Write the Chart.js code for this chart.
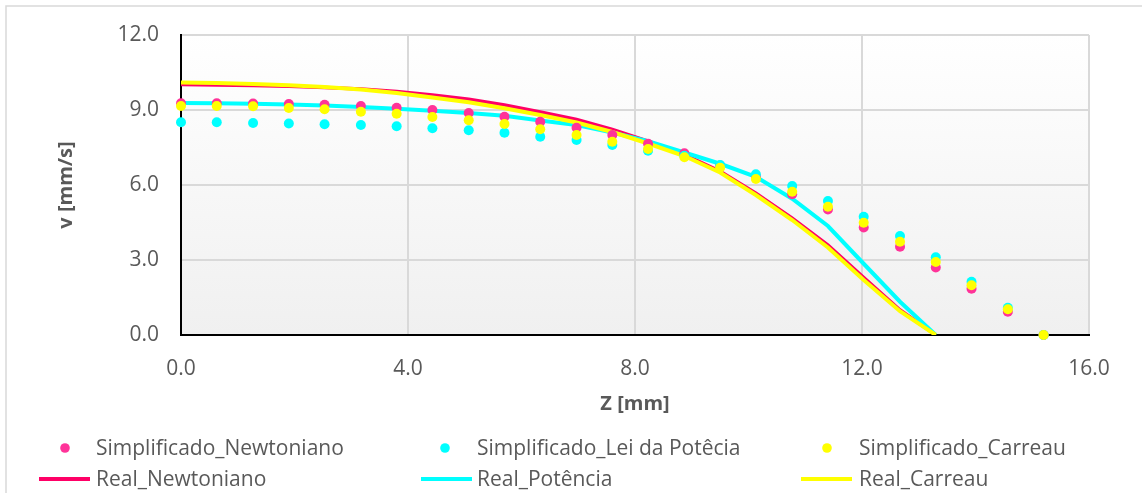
<!DOCTYPE html>
<html>
<head>
<meta charset="utf-8">
<script src="https://cdn.jsdelivr.net/npm/chart.js@4.4.1/dist/chart.umd.min.js"></script>
<style>
  html, body { margin: 0; padding: 0; background: #ffffff; }
  #wrap { width: 1142px; height: 493px; position: relative; }
</style>
</head>
<body>
<div id="wrap"><canvas id="c" width="1142" height="493"></canvas></div>
<script>
// ---- Data ----
const xSimplificado = [0.00, 0.63, 1.27, 1.90, 2.53, 3.17, 3.80, 4.43, 5.07, 5.70, 6.33, 6.97, 7.60, 8.23, 8.87, 9.50, 10.13, 10.77, 11.40, 12.03, 12.67, 13.30, 13.93, 14.57, 15.20];
const vSimplificadoNewtoniano = [9.27, 9.27, 9.26, 9.24, 9.21, 9.16, 9.09, 9.00, 8.88, 8.73, 8.53, 8.29, 8.00, 7.65, 7.27, 6.78, 6.33, 5.63, 5.02, 4.30, 3.53, 2.70, 1.85, 0.93, 0.00];
const vSimplificadoLeiPotencia = [8.51, 8.51, 8.48, 8.46, 8.43, 8.40, 8.35, 8.27, 8.19, 8.09, 7.93, 7.80, 7.60, 7.37, 7.17, 6.80, 6.43, 5.96, 5.36, 4.73, 3.96, 3.11, 2.13, 1.09, 0.00];
const vSimplificadoCarreau = [9.16, 9.16, 9.15, 9.08, 9.03, 8.93, 8.85, 8.72, 8.59, 8.44, 8.23, 8.00, 7.73, 7.44, 7.11, 6.69, 6.24, 5.73, 5.13, 4.49, 3.73, 2.92, 1.99, 1.03, 0.00];

const xReal = [0.00, 0.63, 1.27, 1.90, 2.53, 3.17, 3.80, 4.43, 5.07, 5.70, 6.33, 6.97, 7.60, 8.23, 8.87, 9.50, 10.13, 10.77, 11.40, 12.03, 12.67, 13.30];
const vRealNewtoniano = [10.02, 10.00, 9.98, 9.95, 9.90, 9.84, 9.74, 9.60, 9.43, 9.20, 8.92, 8.62, 8.22, 7.75, 7.22, 6.55, 5.67, 4.67, 3.60, 2.30, 1.00, 0.00];
const vRealPotencia = [9.28, 9.27, 9.25, 9.22, 9.18, 9.12, 9.05, 8.97, 8.88, 8.77, 8.58, 8.40, 8.10, 7.75, 7.30, 6.85, 6.33, 5.45, 4.36, 2.85, 1.33, 0.00];
const vRealCarreau = [10.10, 10.08, 10.04, 9.99, 9.92, 9.82, 9.68, 9.50, 9.31, 9.07, 8.80, 8.50, 8.12, 7.66, 7.16, 6.50, 5.60, 4.60, 3.50, 2.20, 0.95, 0.00];

const seriesLabels = ["Simplificado_Newtoniano", "Simplificado_Lei da Potêcia", "Simplificado_Carreau", "Real_Newtoniano", "Real_Potência", "Real_Carreau"];
const xTickValues = [0, 4, 8, 12, 16];
const yTickValues = [0, 3, 6, 9, 12];
const xAxisTitle = "Z [mm]";
const yAxisTitle = "v [mm/s]";

// ---- Styles ----
const FONT = "'Open Sans', 'DejaVu Sans', sans-serif";
const TEXT = "#595959";
const pts = (xs, ys) => ys.map((y, i) => ({ x: xs[i], y: y }));

function dotSet(label, xs, ys, color, order) {
  return { label, data: pts(xs, ys), showLine: false, pointRadius: 5, pointHoverRadius: 5,
    pointBackgroundColor: color, pointBorderColor: color, pointBorderWidth: 0,
    backgroundColor: color, borderColor: color, clip: false, order, kind: 'dot' };
}
function lineSet(label, xs, ys, color, width, order) {
  return { label, data: pts(xs, ys), showLine: true, pointRadius: 0, pointHoverRadius: 0,
    borderColor: color, backgroundColor: color, borderWidth: width, tension: 0,
    fill: false, order, kind: 'line' };
}

const datasets = [
  dotSet(seriesLabels[0], xSimplificado, vSimplificadoNewtoniano, '#FF3399', 2),
  dotSet(seriesLabels[1], xSimplificado, vSimplificadoLeiPotencia, '#00FFFF', 1),
  dotSet(seriesLabels[2], xSimplificado, vSimplificadoCarreau, '#FFFF00', 0),
  lineSet(seriesLabels[3], xReal, vRealNewtoniano, '#FF0066', 3.5, 5),
  lineSet(seriesLabels[4], xReal, vRealPotencia, '#00FFFF', 4, 4),
  lineSet(seriesLabels[5], xReal, vRealCarreau, '#FFFF00', 4, 3)
];

// background (outer frame + plot gradient)
const backgroundPlugin = {
  id: 'bg',
  beforeDraw(chart) {
    const ctx = chart.ctx, a = chart.chartArea;
    ctx.save();
    ctx.fillStyle = '#ffffff';
    ctx.fillRect(0, 0, chart.width, chart.height);
    ctx.strokeStyle = '#d9d9d9';
    ctx.lineWidth = 1.5;
    ctx.strokeRect(6, 6, chart.width + 50, chart.height + 50);
    const g = ctx.createLinearGradient(0, a.top, 0, a.bottom);
    g.addColorStop(0, '#ffffff');
    g.addColorStop(1, '#f0f0f0');
    ctx.fillStyle = g;
    ctx.fillRect(a.left, a.top, a.right - a.left, a.bottom - a.top);
    ctx.restore();
  }
};

// legend laid out in Excel's three-column grid
const legendPlugin = {
  id: 'gridLegend',
  afterDraw(chart) {
    const ctx = chart.ctx;
    const cols = [{ mark: 65, line0: 39, line1: 90, text: 96 },
                  { mark: 445, line0: 421, line1: 472, text: 477 },
                  { mark: 827, line0: 801, line1: 852, text: 859 }];
    const rows = [448, 479];
    ctx.save();
    ctx.font = "21px " + FONT;
    ctx.textBaseline = 'middle';
    ctx.textAlign = 'left';
    chart.data.datasets.forEach((ds, i) => {
      const c = cols[i % 3], y = rows[Math.floor(i / 3)];
      if (ds.kind === 'dot') {
        ctx.beginPath();
        ctx.fillStyle = ds.pointBackgroundColor;
        ctx.arc(c.mark, y, 4.8, 0, Math.PI * 2);
        ctx.fill();
      } else {
        ctx.beginPath();
        ctx.strokeStyle = ds.borderColor;
        ctx.lineWidth = 4;
        ctx.moveTo(c.line0, y);
        ctx.lineTo(c.line1, y);
        ctx.stroke();
      }
      ctx.fillStyle = TEXT;
      ctx.fillText(ds.label, c.text, y + 1);
    });
    ctx.restore();
  }
};

new Chart(document.getElementById('c'), {
  type: 'scatter',
  data: { datasets },
  plugins: [backgroundPlugin, legendPlugin],
  options: {
    responsive: false,
    animation: false,
    devicePixelRatio: 1,
    layout: { padding: { left: 0, top: 35, right: 53, bottom: 70 } },
    plugins: { legend: { display: false }, tooltip: { enabled: false } },
    scales: {
      x: {
        type: 'linear', min: 0, max: 16,
        afterBuildTicks(s) { s.ticks = xTickValues.map(v => ({ value: v })); },
        afterFit(s) { s.height = 88; },
        grid: { color: '#d9d9d9', lineWidth: 2, drawTicks: false },
        border: { color: '#000000', width: 2 },
        ticks: { padding: 21, color: TEXT, font: { family: FONT, size: 21 }, callback: v => Number(v).toFixed(1) },
        title: { display: true, text: xAxisTitle, color: TEXT, font: { family: FONT, size: 20, weight: 'bold' }, padding: { top: 0, bottom: 7 } }
      },
      y: {
        type: 'linear', min: 0, max: 12,
        afterBuildTicks(s) { s.ticks = yTickValues.map(v => ({ value: v })); },
        afterFit(s) { s.width = 181; },
        grid: { color: '#d9d9d9', lineWidth: 2, drawTicks: false },
        border: { color: '#000000', width: 2 },
        ticks: { padding: 22, color: TEXT, font: { family: FONT, size: 21 }, callback: v => Number(v).toFixed(1) },
        title: { display: true, text: yAxisTitle, color: TEXT, font: { family: FONT, size: 20, weight: 'bold' }, padding: { top: 54, bottom: 0 } }
      }
    }
  }
});
</script>
</body>
</html>
